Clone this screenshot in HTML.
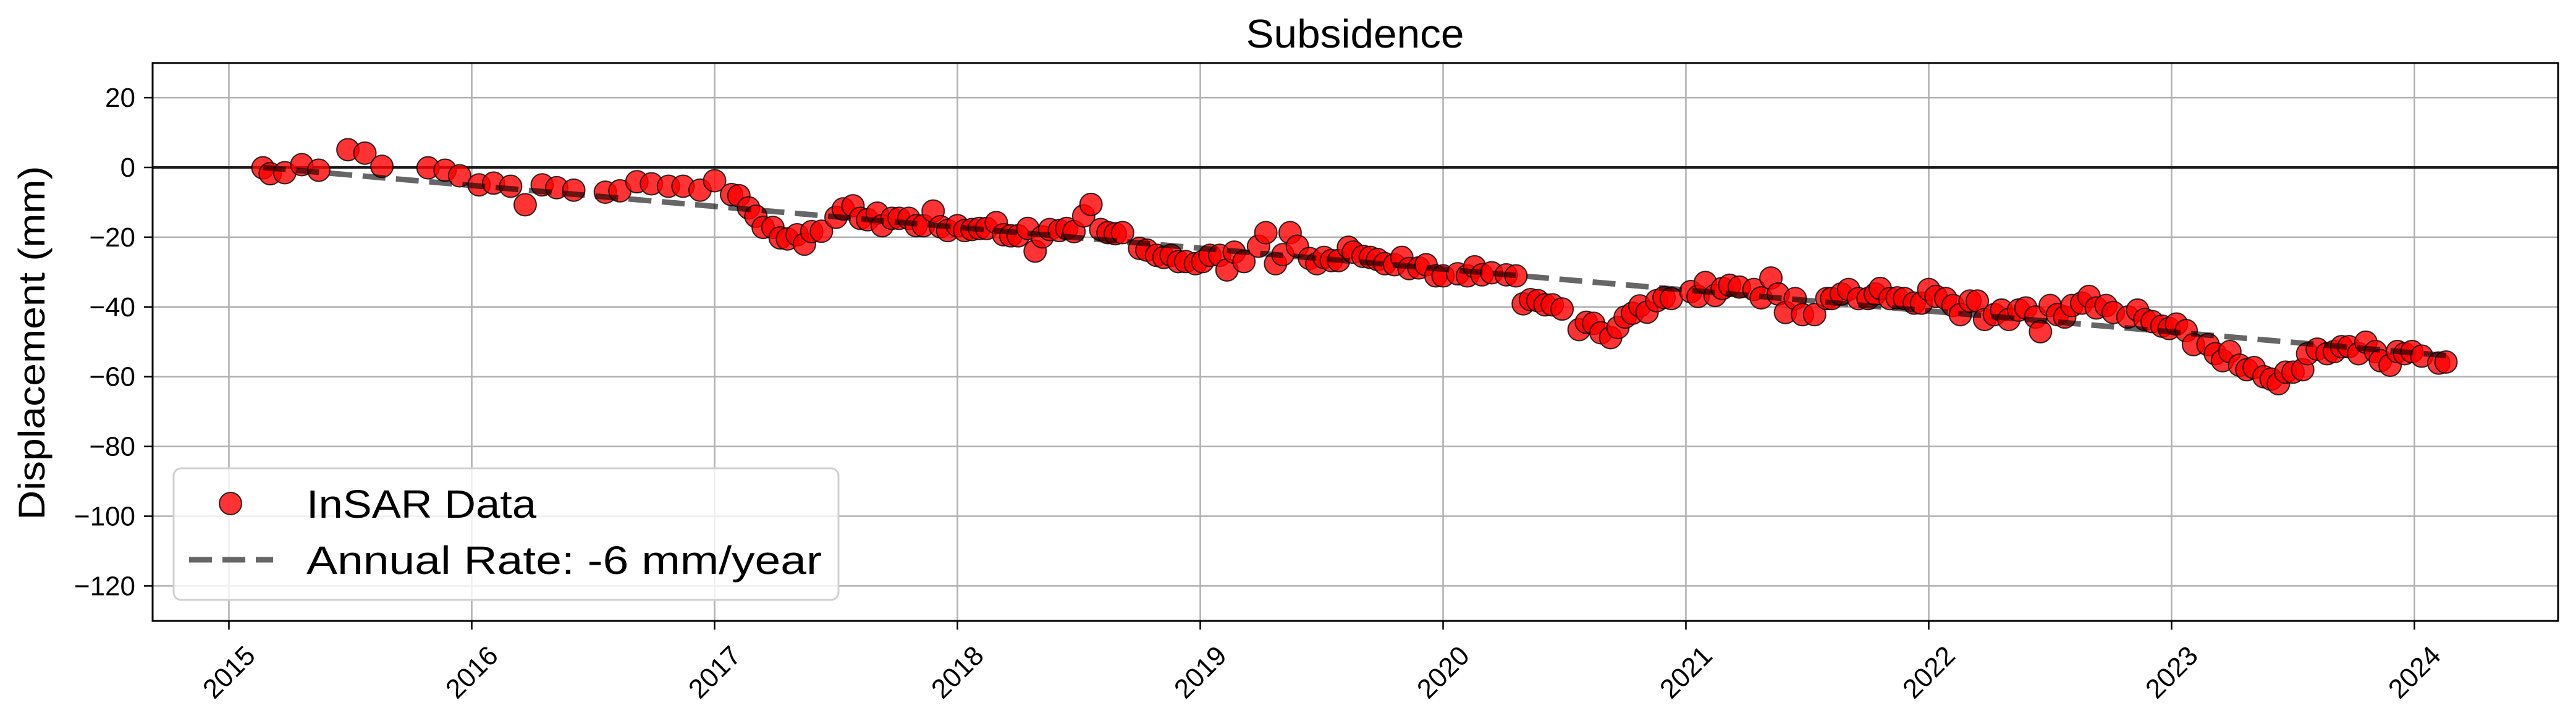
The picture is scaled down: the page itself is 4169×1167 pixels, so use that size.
<!DOCTYPE html>
<html><head><meta charset="utf-8"><style>
html,body{margin:0;padding:0;background:#fff}
svg{display:block}
text{font-family:"Liberation Sans","DejaVu Sans",sans-serif;fill:#000}
</style></head><body>
<svg id="chart" width="4169" height="1167" viewBox="0 0 4169 1167" xmlns="http://www.w3.org/2000/svg">
<rect x="0" y="0" width="4169" height="1167" fill="#fff"/>
<g id="grid"></g>
<g id="axes"></g>
<g id="marks"></g>
<g id="trend"></g>
<text x="2193" y="77" font-size="65" text-anchor="middle" textLength="353" lengthAdjust="spacingAndGlyphs">Subsidence</text>
<text transform="translate(72,555) rotate(-90)" font-size="60" text-anchor="middle" textLength="573" lengthAdjust="spacingAndGlyphs">Displacement (mm)</text>
<g>
<rect x="281" y="758" width="1076" height="213" rx="12" fill="rgba(255,255,255,0.8)" stroke="#d0d0d0" stroke-width="3"/>
<circle cx="373" cy="815" r="18" fill="rgba(255,0,0,0.8)" stroke="rgba(0,0,0,0.8)" stroke-width="2"/>
<text x="496" y="838" font-size="64" textLength="372" lengthAdjust="spacingAndGlyphs">InSAR Data</text>
<line x1="306" y1="906" x2="442" y2="906" stroke="#666" stroke-width="9" stroke-dasharray="37,17"/>
<text x="496" y="929" font-size="64" textLength="834" lengthAdjust="spacingAndGlyphs">Annual Rate: -6 mm/year</text>
</g>
</svg>
<script>
const years = [2015.14,2015.17,2015.23,2015.30,2015.37,2015.49,2015.56,2015.63,2015.82,2015.89,2015.95,2016.03,2016.09,2016.16,2016.22,2016.29,2016.35,2016.42,2016.55,2016.61,2016.68,2016.74,2016.81,2016.87,2016.94,2017.00,
2017.07,2017.10,2017.14,2017.17,2017.20,2017.24,2017.27,2017.30,2017.34,2017.37,2017.40,2017.44,2017.50,2017.53,2017.57,2017.60,2017.63,2017.67,2017.69,2017.73,2017.76,2017.80,2017.83,2017.86,2017.90,2017.93,2017.96,2018.00,2018.03,2018.06,2018.09,2018.12,2018.16,2018.19,2018.22,2018.25,2018.29,2018.32,2018.35,2018.38,2018.42,2018.45,2018.48,2018.52,2018.55,2018.59,2018.62,2018.65,2018.68,2018.75,2018.78,2018.82,2018.85,2018.88,2018.91,2018.94,2018.98,2019.01,
2019.04,2019.08,2019.11,2019.14,2019.18,2019.24,2019.27,2019.31,2019.34,2019.37,2019.40,2019.45,2019.48,2019.51,2019.54,2019.57,2019.61,2019.63,2019.67,2019.70,2019.73,2019.76,2019.80,2019.83,2019.86,2019.90,2019.93,2019.97,2020.00,2020.06,2020.10,2020.13,2020.16,2020.20,2020.26,2020.30,2020.33,2020.36,2020.39,2020.42,2020.45,2020.49,2020.56,2020.59,2020.62,2020.65,2020.69,2020.72,2020.75,2020.78,2020.81,2020.84,2020.88,2020.91,2020.94,2021.02,2021.05,2021.08,2021.12,2021.15,2021.18,
2021.22,2021.28,2021.31,2021.35,2021.38,2021.41,2021.45,2021.48,2021.53,2021.58,2021.60,2021.64,2021.67,2021.71,2021.75,2021.78,2021.80,2021.84,2021.87,2021.90,2021.94,2021.97,2022.00,2022.03,2022.07,2022.10,2022.13,2022.17,2022.20,2022.23,2022.27,2022.30,2022.33,2022.37,2022.40,2022.44,2022.46,2022.50,2022.53,2022.56,2022.59,2022.63,2022.66,2022.69,2022.73,2022.76,2022.82,2022.86,2022.89,2022.92,2022.96,2022.99,2023.02,2023.06,2023.09,2023.15,2023.18,2023.21,2023.24,2023.28,2023.31,2023.34,2023.38,2023.41,2023.44,2023.47,2023.50,2023.54,2023.56,2023.60,2023.64,2023.67,2023.70,2023.73,2023.77,2023.80,2023.84,2023.86,2023.90,2023.93,2023.96,2023.99,2024.03,2024.10,2024.13];
const displacement = [-0.1,-1.8,-1.5,0.8,-0.8,5.1,4.1,0.3,-0.1,-0.8,-2.4,-5.0,-4.5,-5.4,-10.7,-5.0,-5.8,-6.5,-7.1,-6.7,-4.1,-4.7,-5.4,-5.4,-6.5,-3.8,
-7.8,-8.1,-11.6,-14.0,-17.2,-17.2,-20.2,-20.5,-19.3,-22.0,-18.4,-18.3,-14.3,-11.9,-11.0,-14.6,-15.0,-13.1,-16.7,-14.6,-14.6,-14.6,-16.7,-16.7,-12.5,-17.0,-18.1,-16.7,-18.1,-17.8,-17.5,-17.5,-15.8,-19.3,-19.6,-19.6,-17.5,-24.0,-19.9,-17.8,-18.1,-17.5,-18.4,-13.9,-10.6,-17.8,-18.7,-19.0,-18.7,-23.2,-23.7,-25.2,-25.8,-25.2,-27.0,-27.0,-27.6,-27.0,
-25.2,-25.2,-29.4,-24.3,-27.0,-22.6,-18.7,-27.6,-25.0,-18.7,-22.6,-26.1,-27.6,-25.8,-26.7,-26.7,-22.9,-24.3,-25.5,-25.8,-26.4,-27.6,-27.9,-25.8,-29.0,-28.8,-27.9,-31.1,-31.1,-30.5,-31.1,-28.5,-30.8,-30.2,-30.8,-31.1,-39.1,-37.9,-38.2,-39.4,-39.4,-40.6,-46.5,-44.4,-44.7,-47.4,-48.8,-45.9,-42.9,-41.8,-39.7,-41.5,-38.2,-37.3,-37.6,-35.6,-37.0,-33.0,-36.7,-34.7,-33.8,
-34.3,-35.0,-37.4,-31.7,-36.3,-41.6,-37.6,-42.2,-42.2,-37.6,-37.6,-36.3,-35.0,-37.6,-37.6,-36.3,-34.7,-37.6,-37.4,-37.6,-38.9,-38.9,-35.0,-37.0,-37.6,-39.6,-42.2,-38.3,-38.3,-43.6,-42.2,-40.9,-43.6,-40.9,-40.3,-42.9,-47.1,-39.6,-42.2,-42.9,-39.6,-38.9,-37.0,-40.3,-39.6,-41.6,-42.9,-40.9,-43.6,-44.2,-45.5,-46.2,-44.9,-46.8,-50.8,-50.8,-53.4,-55.4,-52.8,-56.7,-58.0,-57.4,-60.0,-60.7,-62.0,-58.7,-58.7,-58.0,-53.4,-52.1,-53.4,-52.8,-51.4,-51.4,-53.4,-50.1,-52.8,-55.4,-56.7,-52.8,-53.4,-52.8,-54.1,-56.1,-55.8];
const yTicks = [20,0,-20,-40,-60,-80,-100,-120];
const yTickLabels = ["20","0","\u221220","\u221240","\u221260","\u221280","\u2212100","\u2212120"];
const xTicks = [2015,2016,2017,2018,2019,2020,2021,2022,2023,2024];
const xTickLabels = ["2015","2016","2017","2018","2019","2020","2021","2022","2023","2024"];
const annualRate = [-6];

const NS="http://www.w3.org/2000/svg";
const L=247,R=4140,T=102,B=1005;
const X0=2015, XPX=370.5, PXY=393.0;
function xs(v){return XPX+(v-X0)*PXY;}
function ys(v){return 271+(0-v)*(112.9/20);}
function mk(tag,attrs,parent){const e=document.createElementNS(NS,tag);for(const k in attrs)e.setAttribute(k,attrs[k]);parent.appendChild(e);return e;}
const grid=document.getElementById('grid'),axes=document.getElementById('axes'),marks=document.getElementById('marks'),trend=document.getElementById('trend');

yTicks.forEach((v,i)=>{
  const y=ys(v);
  const g=mk('line',{x1:L,x2:R,y1:y,y2:y,stroke:'#b0b0b0','stroke-width':2.5},grid);
  
  
  const t=mk('line',{x1:L-14,x2:L,y1:y,y2:y,stroke:'#000','stroke-width':2.5},axes);
  
  
  const tx=mk('text',{x:L-28,y:y+15,'font-size':44,'text-anchor':'end'},axes);
  tx.textContent=yTickLabels[i];
  
  
});
xTicks.forEach((v,i)=>{
  const x=xs(v);
  const g=mk('line',{x1:x,x2:x,y1:T,y2:B,stroke:'#b0b0b0','stroke-width':2.5},grid);
  
  
  const t=mk('line',{x1:x,x2:x,y1:B,y2:B+14,stroke:'#000','stroke-width':2.5},axes);
  
  
  const tx=mk('text',{x:x,y:1088+15,'font-size':44,'text-anchor':'middle',transform:'rotate(-45 '+x+' 1088)'},axes);
  tx.textContent=xTickLabels[i];
  
  
});
const zl=mk('line',{x1:L,x2:R,y1:ys(0),y2:ys(0),stroke:'#1a1a1a','stroke-width':4},axes);


const frame=mk('rect',{x:L,y:T,width:R-L,height:B-T,fill:'none',stroke:'#000','stroke-width':3},axes);



years.forEach((yr,i)=>{
  const c=mk('circle',{cx:xs(yr),cy:ys(displacement[i]),r:18,fill:'rgba(255,0,0,0.8)',stroke:'rgba(0,0,0,0.8)','stroke-width':2},marks);
  
  
});
const x0=years[0],x1=years[years.length-1];
const tl=mk('line',{x1:xs(x0),y1:ys(0),x2:xs(x1),y2:ys(annualRate[0]*(x1-x0)),stroke:'rgba(0,0,0,0.6)','stroke-width':9,'stroke-dasharray':'37,17'},trend);


</script>
</body></html>
